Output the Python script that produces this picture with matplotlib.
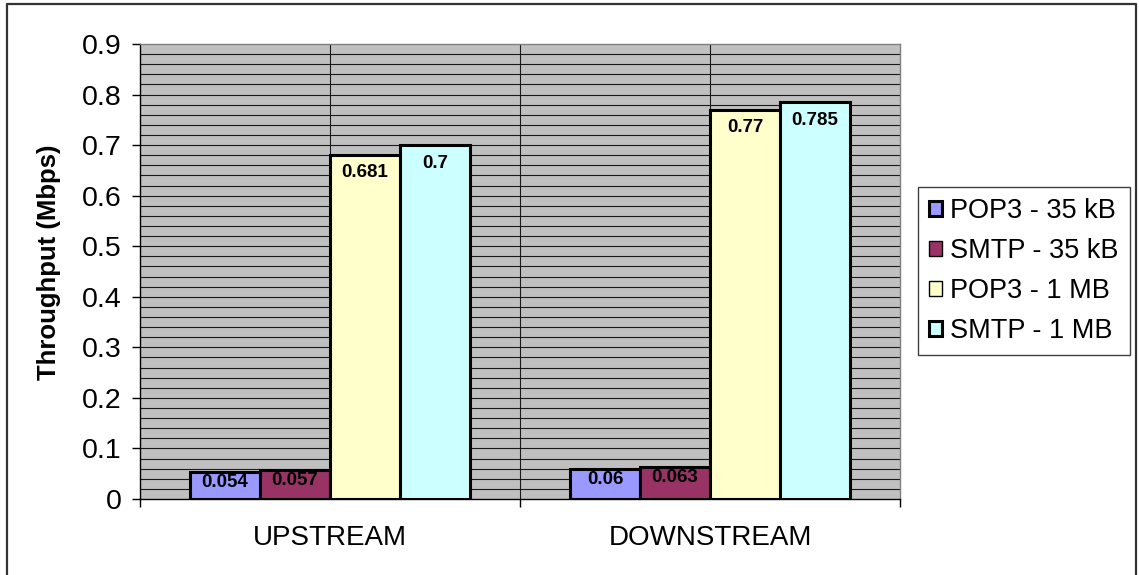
import numpy as np
import matplotlib.pyplot as plt
from matplotlib.lines import Line2D

plt.rcParams['font.family'] = ['Liberation Sans', 'DejaVu Sans']

directions = ['UPSTREAM', 'DOWNSTREAM']
series_names = ['POP3 - 35 kB', 'SMTP - 35 kB', 'POP3 - 1 MB', 'SMTP - 1 MB']
pop3_35kb = [0.054, 0.06]
smtp_35kb = [0.057, 0.063]
pop3_1mb = [0.681, 0.77]
smtp_1mb = [0.7, 0.785]
colors = ['#9999FF', '#993366', '#FFFFCC', '#CCFFFF']

values = [pop3_35kb, smtp_35kb, pop3_1mb, smtp_1mb]

fig = plt.figure(figsize=(11.39, 5.75), dpi=100)
ax = fig.add_axes([140 / 1139, 1 - 499 / 575, 760 / 1139, 455 / 575])
ax.set_facecolor('#C0C0C0')

# thin rule around the whole chart
fig.add_artist(Line2D([7 / 1139, 7 / 1139, 1136 / 1139, 1136 / 1139],
                      [0, 1 - 4 / 575, 1 - 4 / 575, 0],
                      transform=fig.transFigure, color='#333333', lw=1.6))

x = np.arange(len(directions))
width = 70 / 380
offsets = (np.arange(4) - 1.5) * width

# background grid: every 0.02 horizontally, category lines vertically
for yv in np.arange(0.02, 0.9, 0.02):
    ax.axhline(yv, color='#1a1a1a', lw=0.8, zorder=1)
for xv in [0, 0.5, 1]:
    ax.axvline(xv, color='#1a1a1a', lw=0.8, zorder=1)

for vals, off, col, name in zip(values, offsets, colors, series_names):
    b = ax.bar(x + off, vals, width, color=col, edgecolor='black',
               linewidth=2.2, label=name, zorder=3)
    for rect, v in zip(b, vals):
        # short bars get their label pushed up against the top edge
        dy = -7 if v > 0.2 else -1.5
        ax.annotate(f'{v:g}', (rect.get_x() + rect.get_width() / 2, v),
                    xytext=(0, dy), textcoords='offset points',
                    ha='center', va='top', fontsize=13.5, fontweight='bold',
                    zorder=4)

ax.set_xlim(-0.5, 1.5)
ax.set_ylim(0, 0.9)
ax.set_yticks(np.arange(0, 0.91, 0.1))
ax.set_yticklabels(['0', '0.1', '0.2', '0.3', '0.4', '0.5', '0.6', '0.7', '0.8', '0.9'])
ax.set_xticks(x)
ax.set_xticklabels(directions)
ax.set_xticks([-0.5, 0.5, 1.5], minor=True)
ax.tick_params(axis='x', which='major', length=0, pad=19, labelsize=20)
ax.tick_params(axis='x', which='minor', length=6, width=1, direction='out')
ax.tick_params(axis='y', length=6, width=1, direction='out', pad=7, labelsize=20.5)

ax.spines['left'].set_color('black')
ax.spines['bottom'].set_color('black')
ax.spines['top'].set_color('#808080')
ax.spines['right'].set_color('#808080')
for s in ax.spines.values():
    s.set_linewidth(1)
    s.set_zorder(5)

ax.set_ylabel('Throughput (Mbps)', fontsize=18.5, fontweight='bold')
ax.yaxis.set_label_coords(-0.104, 0.52)

leg = ax.legend(loc='upper left', bbox_to_anchor=(918 / 1139, 1 - 187 / 575),
                bbox_transform=fig.transFigure, borderaxespad=0,
                fontsize=19.5, handlelength=0.5, handleheight=0.5,
                handletextpad=0.3, labelspacing=0.52, borderpad=0.4,
                fancybox=False, framealpha=1, edgecolor='#404040')
leg.get_frame().set_linewidth(1)
for h, lw in zip(leg.legend_handles, [2.2, 1, 1, 2.2]):
    h.set_linewidth(lw)

fig.savefig('out.png', dpi=100)
